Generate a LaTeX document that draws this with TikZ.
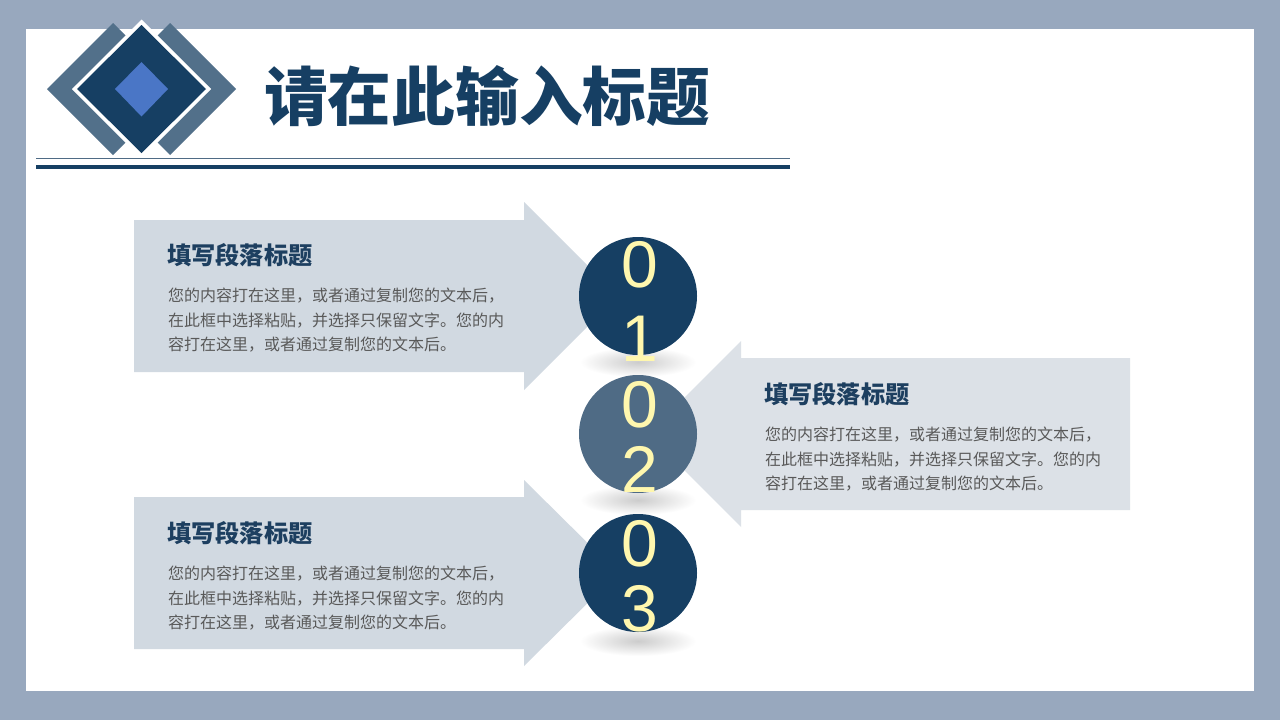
\documentclass[tikz,border=0pt]{standalone}
\usepackage{fontspec}
\setmainfont{Noto Sans CJK SC}
\newfontfamily\cjk{Noto Sans CJK SC}
\newfontfamily\numfont{Liberation Sans}
\usetikzlibrary{shapes.geometric}
\definecolor{frame}{HTML}{98A8BE}
\definecolor{navy}{HTML}{163F63}
\definecolor{slate}{HTML}{52708A}
\definecolor{slatec}{HTML}{4F6B85}
\definecolor{lightblue}{HTML}{4A76C6}
\definecolor{panelA}{HTML}{D1D9E1}
\definecolor{panelB}{HTML}{DCE1E7}
\definecolor{numyel}{HTML}{FFF7AE}
\definecolor{bodygray}{HTML}{595959}
\definecolor{headnavy}{HTML}{1D3F60}
\tikzset{
  panel/.style={fill=#1, draw=none},
  numcircle/.style={circle, fill=#1, minimum size=118pt, inner sep=0pt, draw=none},
  digit/.style={text=numyel, font=\numfont\fontsize{66}{66}\selectfont, inner sep=0pt},
  headtext/.style={anchor=west, inner sep=0pt, text=headnavy, font=\cjk\bfseries\fontsize{24.2}{28}\selectfont},
  bodytext/.style={anchor=north west, inner sep=0pt, align=left, text=bodygray, font=\cjk\fontsize{16}{24.5}\selectfont},
  shadowell/.style={ellipse, minimum width=116pt, minimum height=30pt, inner sep=0pt, draw=none, inner color=black!20, outer color=white}
}
\begin{document}
\begin{tikzpicture}[x=1pt,y=-1pt]
\useasboundingbox (0,0) rectangle (1280,720);
% frame
\fill[frame] (0,0) rectangle (1280,720);
\fill[white] (26,29) rectangle (1254,691);

% logo
\fill[slate] (47,89) -- (113,23) -- (127,37) -- (72,89) -- (127,141) -- (113,155) -- cycle;
\fill[slate] (236,89) -- (170,23) -- (156,37) -- (211,89) -- (156,141) -- (170,155) -- cycle;
\fill[white] (141.5,19.5) -- (211,89) -- (141.5,158.5) -- (72,89) -- cycle;
\fill[navy] (141.5,25) -- (206,89) -- (141.5,153) -- (77,89) -- cycle;
\fill[lightblue] (141.5,62) -- (168,89) -- (141.5,116.5) -- (115,89) -- cycle;

% title and rules
\node[anchor=west, inner sep=0pt, text=navy, font=\cjk\bfseries\fontsize{63.7}{70}\selectfont] (title) at (264,96) {请在此输入标题};
\draw[slatec, line width=1pt] (36,158) -- (790,158);
\draw[navy, line width=4pt] (36,166.5) -- (790,166.5);

% panels
\fill[panelA] (134,220) -- (524,220) -- (524,202) -- (618,296) -- (524,390) -- (524,372) -- (134,372) -- cycle;
\fill[panelB] (1130,358) -- (741,358) -- (741,341) -- (648,434) -- (741,527) -- (741,510) -- (1130,510) -- cycle;
\fill[panelA] (134,497) -- (524,497) -- (524,480) -- (618,573) -- (524,666) -- (524,649) -- (134,649) -- cycle;

% shadows
\node[shadowell] (s1) at (638,362) {};
\node[shadowell] (s2) at (638,500) {};
\node[shadowell] (s3) at (638,641) {};

% circles
\node[numcircle=navy] (c1) at (638,296) {};
\node[numcircle=slatec] (c2) at (638,434) {};
\node[numcircle=navy] (c3) at (638,573) {};

\node[digit] (d1a) at (640,265) {0};
\node[digit] (d1b) at (640,339) {1};
\node[digit] (d2a) at (640,405) {0};
\node[digit] (d2b) at (640,469) {2};
\node[digit] (d3a) at (640,544) {0};
\node[digit] (d3b) at (640,609) {3};

% panel texts
\node[headtext] (h1) at (167,255) {填写段落标题};
\node[bodytext] (b1) at (168,288) {您的内容打在这里，或者通过复制您的文本后，\\在此框中选择粘贴，并选择只保留文字。您的内\\容打在这里，或者通过复制您的文本后。};

\node[headtext] (h2) at (764,394) {填写段落标题};
\node[bodytext] (b2) at (765,427) {您的内容打在这里，或者通过复制您的文本后，\\在此框中选择粘贴，并选择只保留文字。您的内\\容打在这里，或者通过复制您的文本后。};

\node[headtext] (h3) at (167,533) {填写段落标题};
\node[bodytext] (b3) at (168,566) {您的内容打在这里，或者通过复制您的文本后，\\在此框中选择粘贴，并选择只保留文字。您的内\\容打在这里，或者通过复制您的文本后。};
\end{tikzpicture}
\end{document}
